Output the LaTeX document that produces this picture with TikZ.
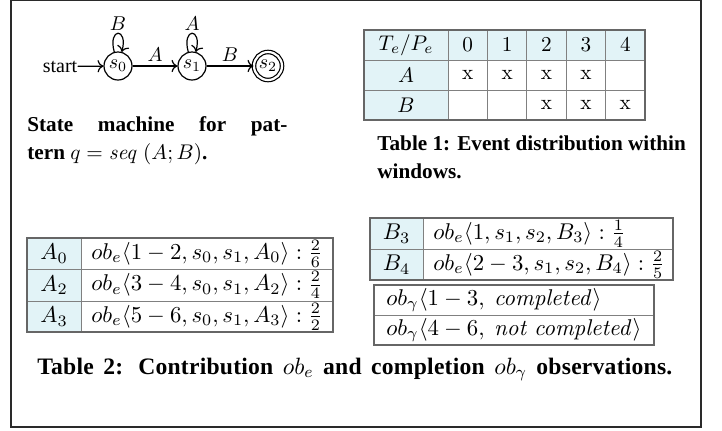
\RequirePackage{fix-cm}
\documentclass[tikz,border=0pt]{standalone}
\usepackage[no-math]{fontspec}
\setmainfont{Liberation Serif}
\usetikzlibrary{arrows.meta}
\definecolor{cellblue}{HTML}{E2F3F7}
\definecolor{gridgray}{HTML}{808080}
\definecolor{framegray}{HTML}{2A2A2A}
\begin{document}
\begin{tikzpicture}[x=0.5pt,y=-0.5pt,
  st/.style={circle,draw,semithick,minimum size=14pt,inner sep=0pt,font=\fontsize{10}{12}\selectfont},
  acc/.style={st,double,double distance=1.1pt,minimum size=14pt},
  edgeline/.style={->,semithick},
  gridline/.style={draw=gridgray,line width=0.5pt},
  outerline/.style={draw=gridgray!80!black,line width=0.7pt},
  txt/.style={inner sep=0pt,font=\fontsize{10.6}{12}\selectfont},
  bigtxt/.style={inner sep=0pt,font=\fontsize{11.4}{13}\selectfont},
  captxt/.style={inner sep=0pt,anchor=base west,font=\fontsize{10.6}{13}\selectfont\bfseries}]
\useasboundingbox (0,0) rectangle (722,430);
% frame
\draw[line width=1pt,framegray] (11,0) rectangle (701,426.5);

% ---------- state machine ----------
\node[st] (s0) at (118,66) {$s_0$};
\node[st] (s1) at (192,66) {$s_1$};
\node[acc] (s2) at (268,66) {$s_2$};
\node[txt,font=\fontsize{10}{12}\selectfont] (start) at (60,66.5) {start};
\draw[edgeline] (start) -- (s0);
\draw[edgeline] (s0) -- node[above,inner sep=2pt] (la) {$A$} (s1);
\draw[edgeline] (s1) -- node[above,inner sep=2pt] (lb) {$B$} (s2);
\path[edgeline] (s0) edge[loop above,min distance=4.5mm] node[above,inner sep=1pt] (l0) {$B$} (s0);
\path[edgeline] (s1) edge[loop above,min distance=4.5mm] node[above,inner sep=1pt] (l1) {$A$} (s1);

\node[captxt] (c1a) at (27,131) {\makebox[130pt][s]{State machine for pat-}};
\node[captxt] (c1b) at (27,159) {tern $q = \mathit{seq}\ (A; B)$.};

% ---------- Table 1 ----------
\fill[cellblue] (364,30) rectangle (645,60);
\fill[cellblue] (364,60) rectangle (448,120);
\foreach \y in {60,90} \draw[gridline] (364,\y) -- (645,\y);
\foreach \x in {448,487.4,526.8,566.2,605.6} \draw[gridline] (\x,30) -- (\x,120);
\draw[outerline] (364,30) rectangle (645,120);
\node[txt] (h0) at (406,45) {$T_e/P_e$};
\node[txt] (h1) at (467.7,45) {$0$};
\node[txt] (h2) at (507.1,45) {$1$};
\node[txt] (h3) at (546.5,45) {$2$};
\node[txt] (h4) at (585.9,45) {$3$};
\node[txt] (h5) at (625.3,45) {$4$};
\node[txt] (ra) at (406,75) {$A$};
\node[txt] (rb) at (406,105) {$B$};
\foreach \x/\n in {467.7/1,507.1/2,546.5/3,585.9/4} \node[txt] (ax\n) at (\x,75) {$\mathrm{x}$};
\foreach \x/\n in {546.5/3,585.9/4,625.3/5} \node[txt] (bx\n) at (\x,105) {$\mathrm{x}$};

\node[captxt] (c2a) at (377,150) {Table 1: Event distribution within};
\node[captxt] (c2b) at (377,178) {windows.};

% ---------- Table 2 left ----------
\fill[cellblue] (27,238) rectangle (81,332);
\foreach \y in {269,301} \draw[gridline] (27,\y) -- (333,\y);
\draw[gridline] (81,238) -- (81,332);
\draw[outerline] (27,238) rectangle (333,332);
\node[bigtxt] (a0) at (54,253.5) {$A_0$};
\node[bigtxt] (a2) at (54,285) {$A_2$};
\node[bigtxt] (a3) at (54,316.5) {$A_3$};
\node[bigtxt,anchor=west] (oa0) at (91,253.5) {$ob_e\langle 1-2, s_0, s_1, A_0\rangle : \frac{2}{6}$};
\node[bigtxt,anchor=west] (oa2) at (91,285) {$ob_e\langle 3-4, s_0, s_1, A_2\rangle : \frac{2}{4}$};
\node[bigtxt,anchor=west] (oa3) at (91,316.5) {$ob_e\langle 5-6, s_0, s_1, A_3\rangle : \frac{2}{2}$};

% ---------- Table 2 right ----------
\fill[cellblue] (370,218) rectangle (423,280);
\draw[gridline] (370,249) -- (673,249);
\draw[gridline] (423,218) -- (423,280);
\draw[outerline] (370,218) rectangle (673,280);
\node[bigtxt] (b3) at (396.5,233.5) {$B_3$};
\node[bigtxt] (b4) at (396.5,264.5) {$B_4$};
\node[bigtxt,anchor=west] (ob3) at (433,233.5) {$ob_e\langle 1, s_1, s_2, B_3\rangle : \frac{1}{4}$};
\node[bigtxt,anchor=west] (ob4) at (433,264.5) {$ob_e\langle 2-3, s_1, s_2, B_4\rangle : \frac{2}{5}$};

\draw[gridline] (374,315) -- (654,315);
\draw[outerline] (374,285) rectangle (654,345);
\node[bigtxt,anchor=west] (og1) at (386,300) {$ob_\gamma\langle 1-3,\ \mathit{completed}\rangle$};
\node[bigtxt,anchor=west] (og2) at (386,330) {$ob_\gamma\langle 4-6,\ \mathit{not\ completed}\rangle$};

\node[captxt,font=\fontsize{11.8}{13}\selectfont\bfseries\addfontfeature{LetterSpace=1}] (c3) at (37,374) {\makebox[317.5pt][s]{Table 2: Contribution $ob_e$ and completion $ob_\gamma$ observations.}};
\end{tikzpicture}
\end{document}
